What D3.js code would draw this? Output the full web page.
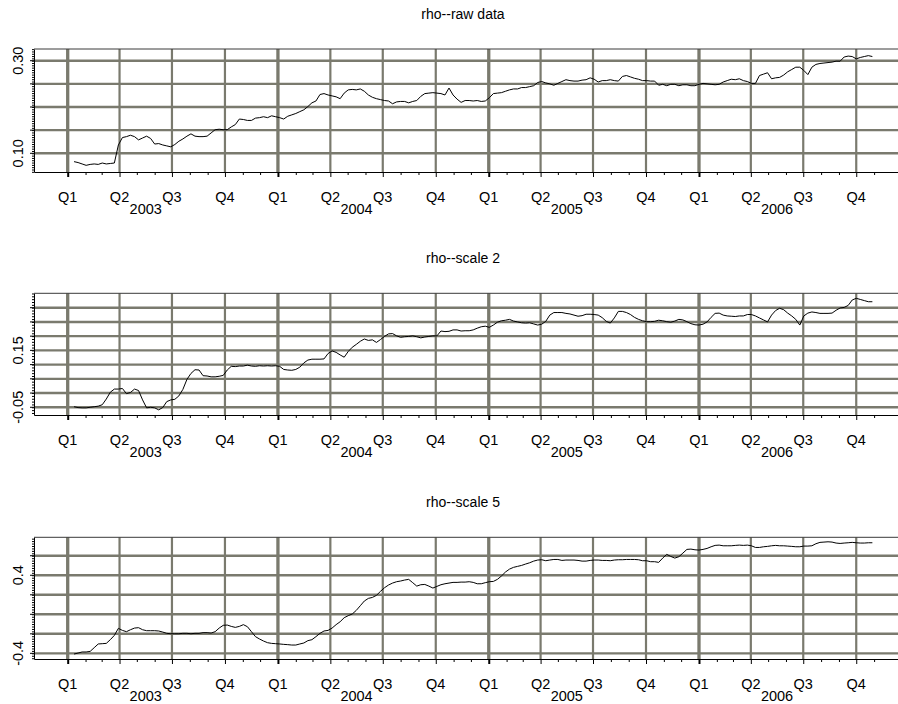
<!DOCTYPE html>
<html>
<head>
<meta charset="utf-8">
<script src="https://cdn.jsdelivr.net/npm/d3@7"></script>
<style>
  body { margin: 0; background: #fff; }
  svg { display: block; }
  text { font-family: "Liberation Sans", Arial, Helvetica, sans-serif; fill: #000; }
</style>
</head>
<body>
<svg id="chart" width="898" height="704"></svg>
<script>
// Weekly observations of the rolling correlation, starting 12 Jan 2003.
const seriesStart = "2003-01-12";
const stepDays = 7;

const rawData = [
  0.082, 0.080, 0.077, 0.074, 0.076, 0.077, 0.076, 0.079, 0.077, 0.078, 0.079,
  0.118, 0.134, 0.136, 0.139, 0.136, 0.129, 0.133, 0.137, 0.132, 0.120,
  0.121, 0.118, 0.116, 0.114, 0.119, 0.126, 0.131, 0.137, 0.142, 0.137,
  0.136, 0.136, 0.137, 0.144, 0.151, 0.152, 0.151, 0.151, 0.157, 0.162,
  0.174, 0.173, 0.171, 0.171, 0.176, 0.177, 0.179, 0.177, 0.181, 0.179,
  0.177, 0.174, 0.180, 0.183, 0.186, 0.190,
  0.194, 0.201, 0.209, 0.213, 0.227, 0.229, 0.226, 0.224, 0.222, 0.218,
  0.230, 0.237, 0.238, 0.237, 0.239, 0.234, 0.226, 0.221, 0.218, 0.216,
  0.214, 0.213, 0.207, 0.211, 0.212, 0.212, 0.209, 0.212, 0.214, 0.223,
  0.229, 0.230, 0.231, 0.230, 0.229, 0.226, 0.241, 0.226, 0.217, 0.210,
  0.214, 0.214, 0.213, 0.214, 0.212, 0.213, 0.220, 0.229, 0.230, 0.231,
  0.234, 0.237, 0.239, 0.239, 0.242, 0.242, 0.244, 0.246, 0.253, 0.255,
  0.252, 0.250, 0.247, 0.251, 0.255, 0.259, 0.257, 0.256, 0.256, 0.258,
  0.259, 0.263, 0.260, 0.254,
  0.257, 0.257, 0.259, 0.257, 0.256, 0.266, 0.268, 0.265, 0.262, 0.260,
  0.257, 0.257, 0.256, 0.256, 0.247, 0.249, 0.246, 0.249, 0.249, 0.246,
  0.248, 0.248, 0.246, 0.246, 0.249, 0.251, 0.250, 0.249, 0.248, 0.249,
  0.254, 0.257, 0.260, 0.259, 0.261, 0.257, 0.255, 0.251, 0.251, 0.268,
  0.271, 0.274, 0.261, 0.263, 0.264, 0.269, 0.276, 0.281, 0.286, 0.286,
  0.279, 0.270, 0.286, 0.292, 0.294, 0.295, 0.296, 0.297, 0.299, 0.299,
  0.308, 0.310, 0.309, 0.304, 0.307, 0.309, 0.311, 0.309
];

const scale2Data = [
  -0.048, -0.051, -0.052, -0.052, -0.050, -0.048, -0.046, -0.041, -0.021, 0.003, 0.014,
  0.014, 0.016, -0.002, 0.002, 0.014, 0.009, -0.024, -0.052, -0.050, -0.052,
  -0.059, -0.051, -0.030, -0.024, -0.022, -0.010, 0.013, 0.048, 0.069, 0.082,
  0.081, 0.061, 0.060, 0.057, 0.057, 0.059, 0.062, 0.081, 0.094, 0.093,
  0.095, 0.095, 0.098, 0.095, 0.094, 0.096, 0.095, 0.096, 0.095, 0.096,
  0.094, 0.083, 0.081, 0.080, 0.083, 0.091,
  0.106, 0.116, 0.119, 0.119, 0.119, 0.120, 0.139, 0.148, 0.143, 0.134,
  0.126, 0.146, 0.161, 0.171, 0.182, 0.190, 0.185, 0.187, 0.178, 0.188,
  0.199, 0.208, 0.209, 0.201, 0.196, 0.198, 0.199, 0.201, 0.198, 0.194,
  0.197, 0.199, 0.201, 0.201, 0.218, 0.216, 0.217, 0.222, 0.222, 0.218,
  0.219, 0.219, 0.222, 0.228, 0.233, 0.235, 0.231, 0.239, 0.249, 0.254,
  0.256, 0.259, 0.253, 0.250, 0.247, 0.246, 0.247, 0.243, 0.239, 0.242,
  0.252, 0.274, 0.283, 0.283, 0.283, 0.280, 0.278, 0.274, 0.270, 0.272,
  0.277, 0.277, 0.276, 0.274,
  0.265, 0.252, 0.246, 0.264, 0.287, 0.287, 0.283, 0.276, 0.266, 0.259,
  0.254, 0.251, 0.251, 0.252, 0.256, 0.254, 0.251, 0.249, 0.253, 0.259,
  0.257, 0.251, 0.244, 0.240, 0.239, 0.242, 0.250, 0.266, 0.280, 0.281,
  0.274, 0.271, 0.270, 0.269, 0.271, 0.271, 0.276, 0.276, 0.271, 0.264,
  0.257, 0.250, 0.274, 0.290, 0.298, 0.293, 0.281, 0.271, 0.259, 0.239,
  0.271, 0.281, 0.285, 0.283, 0.280, 0.280, 0.280, 0.281, 0.291, 0.299,
  0.301, 0.308, 0.327, 0.333, 0.329, 0.325, 0.321, 0.321
];

const scale5Data = [
  -0.407, -0.397, -0.386, -0.386, -0.380, -0.342, -0.304, -0.301, -0.298, -0.260, -0.216,
  -0.144, -0.165, -0.178, -0.158, -0.141, -0.137, -0.158, -0.168, -0.168, -0.168,
  -0.171, -0.182, -0.195, -0.199, -0.199, -0.199, -0.195, -0.195, -0.199, -0.195,
  -0.195, -0.188, -0.188, -0.192, -0.178, -0.141, -0.113, -0.110, -0.124, -0.134,
  -0.124, -0.106, -0.127, -0.178, -0.229, -0.253, -0.274, -0.291, -0.298, -0.301,
  -0.304, -0.308, -0.311, -0.315, -0.315, -0.304,
  -0.294, -0.270, -0.260, -0.229, -0.195, -0.171, -0.165, -0.141, -0.106, -0.076,
  -0.035, -0.014, 0.003, 0.040, 0.088, 0.136, 0.163, 0.173, 0.194, 0.235,
  0.272, 0.300, 0.320, 0.334, 0.341, 0.351, 0.358, 0.324, 0.289, 0.303,
  0.306, 0.289, 0.269, 0.286, 0.303, 0.313, 0.320, 0.327, 0.327, 0.330,
  0.330, 0.334, 0.327, 0.313, 0.313, 0.324, 0.334, 0.337, 0.358, 0.392,
  0.433, 0.463, 0.481, 0.491, 0.501, 0.515, 0.528, 0.545, 0.556, 0.559,
  0.549, 0.556, 0.562, 0.562, 0.552, 0.556, 0.556, 0.556, 0.552, 0.545,
  0.545, 0.552, 0.556, 0.556,
  0.552, 0.552, 0.549, 0.556, 0.559, 0.559, 0.562, 0.562, 0.562, 0.559,
  0.549, 0.549, 0.539, 0.539, 0.532, 0.576, 0.614, 0.593, 0.576, 0.590,
  0.627, 0.665, 0.668, 0.661, 0.658, 0.665, 0.675, 0.692, 0.706, 0.709,
  0.702, 0.702, 0.702, 0.706, 0.709, 0.706, 0.709, 0.702, 0.685, 0.685,
  0.692, 0.696, 0.702, 0.706, 0.702, 0.702, 0.699, 0.696, 0.692, 0.692,
  0.699, 0.699, 0.702, 0.723, 0.737, 0.740, 0.743, 0.740, 0.730, 0.726,
  0.730, 0.733, 0.737, 0.733, 0.730, 0.730, 0.733, 0.733
];

const panelTitles = ["rho--raw data", "rho--scale 2", "rho--scale 5"];

// Horizontal grid values, labelled values and minor tick step for each panel
const gridValues = [
  [0.10, 0.15, 0.20, 0.25, 0.30],
  [-0.05, 0.00, 0.05, 0.10, 0.15, 0.20, 0.25, 0.30],
  [-0.4, -0.2, 0.0, 0.2, 0.4, 0.6]
];
const labelValues = [
  [0.10, 0.30],
  [-0.05, 0.15],
  [-0.4, 0.4]
];
const labelDigits = [2, 2, 1];
const minorSteps = [0.005, 0.01, 0.025];

const quarterLabels = ["Q1", "Q2", "Q3", "Q4"];
const yearLabels = [2003, 2004, 2005, 2006];

// ---- layout ----
const W = 898, H = 704;
const left = 34, right = 898;
const panels = [
  { top: 49,    bottom: 172, domain: [0.0596, 0.3253], data: rawData },
  { top: 293.3, bottom: 415, domain: [-0.0771, 0.3506], data: scale2Data },
  { top: 537.3, bottom: 659, domain: [-0.458, 0.789], data: scale5Data }
];
const gridColor = "#7a7a6e";

const svg = d3.select("#chart");

const x = d3.scaleUtc()
  .domain([new Date(Date.UTC(2002, 10, 3, 12)), new Date(Date.UTC(2006, 11, 12, 12))])
  .range([left, right]);

const start = new Date(seriesStart + "T00:00:00Z");
const dateAt = i => d3.utcDay.offset(start, i * stepDays);

const months = d3.utcMonth.range(new Date(Date.UTC(2003, 0, 1)), new Date(Date.UTC(2006, 10, 2)));
const quarters = months.filter(d => d.getUTCMonth() % 3 === 0);

panels.forEach((p, k) => {
  const g = svg.append("g");
  const y = d3.scaleLinear().domain(p.domain).range([p.bottom, p.top]);

  // title
  g.append("text")
    .attr("x", 463).attr("y", p.top - 30)
    .attr("text-anchor", "middle")
    .attr("font-size", 14)
    .text(panelTitles[k]);

  // horizontal grid
  g.append("g").selectAll("line").data(gridValues[k]).join("line")
    .attr("x1", left).attr("x2", right)
    .attr("y1", d => y(d)).attr("y2", d => y(d))
    .attr("stroke", gridColor).attr("stroke-width", 2.4);

  // vertical grid at quarter starts, heavier at year starts
  g.append("g").selectAll("line").data(quarters).join("line")
    .attr("x1", d => x(d)).attr("x2", d => x(d))
    .attr("y1", p.top).attr("y2", p.bottom)
    .attr("stroke", gridColor)
    .attr("stroke-width", d => d.getUTCMonth() === 0 ? 3.3 : 2.2);

  // top frame line
  g.append("line")
    .attr("x1", left).attr("x2", right)
    .attr("y1", p.top).attr("y2", p.top)
    .attr("stroke", "#3a3a3a").attr("stroke-width", 1);

  // the series
  const line = d3.line()
    .x((d, i) => x(dateAt(i)))
    .y(d => y(d));
  g.append("path")
    .datum(p.data)
    .attr("d", line)
    .attr("fill", "none")
    .attr("stroke", "#000")
    .attr("stroke-width", 1);

  // bottom axis: monthly ticks, longer at quarters
  const xAxis = d3.axisBottom(x)
    .tickValues(months)
    .tickFormat("")
    .tickSizeOuter(0)
    .tickSizeInner(3);
  const ax = g.append("g")
    .attr("transform", `translate(0,${p.bottom})`)
    .call(xAxis);
  ax.select(".domain").attr("stroke", "#000").attr("stroke-width", 1);
  ax.selectAll(".tick line")
    .attr("stroke", "#000")
    .attr("y2", d => d.getUTCMonth() % 3 === 0 ? 5 : 3)
    .attr("stroke-width", d => d.getUTCMonth() === 0 ? 2 : 1);

  // quarter labels
  g.append("g").selectAll("text").data(quarters).join("text")
    .attr("x", d => x(d)).attr("y", p.bottom + 30)
    .attr("text-anchor", "middle")
    .attr("font-size", 14.5)
    .text(d => quarterLabels[d.getUTCMonth() / 3]);

  // year labels, centred between the Q2 and Q3 labels
  g.append("g").selectAll("text").data(yearLabels).join("text")
    .attr("x", d => (x(new Date(Date.UTC(d, 3, 1))) + x(new Date(Date.UTC(d, 6, 1)))) / 2)
    .attr("y", p.bottom + 42)
    .attr("text-anchor", "middle")
    .attr("font-size", 14.5)
    .text(d => d);

  // left axis: dense minor ticks plus labelled ticks
  const step = minorSteps[k];
  const minor = d3.range(Math.ceil(p.domain[0] / step), Math.floor(p.domain[1] / step) + 1)
    .map(i => +(i * step).toFixed(4));
  const yAxis = d3.axisLeft(y)
    .tickValues(minor)
    .tickFormat("")
    .tickSizeOuter(0)
    .tickSizeInner(2);
  const ay = g.append("g")
    .attr("transform", `translate(${left},0)`)
    .call(yAxis);
  ay.select(".domain").attr("stroke", "#000").attr("stroke-width", 1);
  ay.selectAll(".tick line").attr("stroke", "#000");

  g.append("g").selectAll("line").data(gridValues[k]).join("line")
    .attr("x1", left - 4).attr("x2", left)
    .attr("y1", d => y(d)).attr("y2", d => y(d))
    .attr("stroke", "#000");

  g.append("g").selectAll("text").data(labelValues[k]).join("text")
    .attr("transform", d => `translate(${left - 11},${y(d)}) rotate(-90)`)
    .attr("text-anchor", "middle")
    .attr("font-size", 14.5)
    .text(d => d.toFixed(labelDigits[k]));
});
</script>
</body>
</html>
